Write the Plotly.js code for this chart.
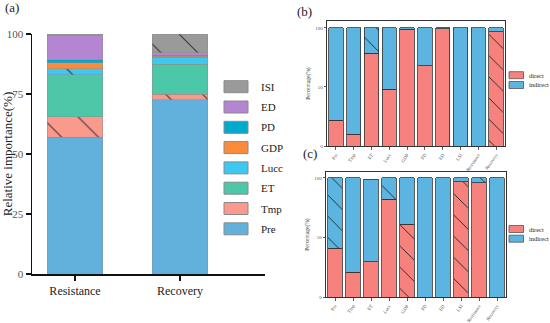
<!DOCTYPE html>
<html><head><meta charset="utf-8">
<script src="https://cdn.plot.ly/plotly-3.0.1.min.js"></script>
<style>html,body{margin:0;padding:0;background:#fff}#chart{width:550px;height:323px}</style>
</head><body><div id="chart"></div>
<script>
// ---- Panel (a): relative importance ----
const groupsA = ['Resistance', 'Recovery'];
const factorsA = ['Pre', 'Tmp', 'ET', 'Lucc', 'GDP', 'PD', 'ED', 'ISI'];
const legendLabelsA = ['ISI', 'ED', 'PD', 'GDP', 'Lucc', 'ET', 'Tmp', 'Pre'];
const pre  = [57.0, 72.7];
const tmp  = [8.6, 2.1];
const et   = [17.5, 12.5];
const lucc = [2.5, 3.1];
const gdp  = [2.4, 0.3];
const pd   = [1.3, 0.4];
const ed   = [10.1, 1.0];
const isi  = [0.6, 7.9];
const hatchA = {Tmp: ['\\', '\\'], Lucc: ['\\', ''], ISI: ['', '\\']};

// ---- Panels (b) and (c): direct / indirect ----
const catsBC = ['Pre', 'Tmp', 'ET', 'Lucc', 'GDP', 'PD', 'ED', 'LSI', 'Resistance', 'Recovery'];
const directB   = [22, 10, 78.5, 48, 99, 68, 99.3, 0, 0, 96.6];
const indirectB = [78, 90, 21.5, 52, 1, 32, 0.7, 100, 100, 3.4];
const directC   = [41, 21, 29.6, 82.3, 61, 0, 0, 96.9, 96.1, 0];
const indirectC = [59, 79, 69.4, 17.7, 39, 100, 100, 3.1, 3.9, 100];
const hatchDirectB   = ['', '', '', '', '', '', '', '', '', '\\'];
const hatchIndirectB = ['', '', '\\', '', '', '', '', '', '', ''];
const hatchDirectC   = ['', '', '', '', '\\', '', '', '\\', '', ''];
const hatchIndirectC = ['\\', '', '', '\\', '', '', '', '', '\\', ''];
const seriesBC = ['direct', 'indirect'];

const W = 550, H = 323;
const px = v => v / W, py = v => 1 - v / H;
const SERIF = 'Liberation Serif, Times New Roman, serif';

const colorsA = {Pre:'#62b0dc', Tmp:'#fa9a8c', ET:'#4cc8a8', Lucc:'#3cc8f0', GDP:'#fa8c3c', PD:'#00aacb', ED:'#b486d2', ISI:'#9a9a9a'};
const valuesA = {Pre: pre, Tmp: tmp, ET: et, Lucc: lucc, GDP: gdp, PD: pd, ED: ed, ISI: isi};
const colDirect = '#f7817d', colIndirect = '#5bb5e0';

const traces = [];
factorsA.forEach(f => {
  const pat = hatchA[f] || ['', ''];
  traces.push({
    type: 'bar', x: groupsA, y: valuesA[f], name: f, xaxis: 'x', yaxis: 'y',
    width: 0.53, showlegend: false, hoverinfo: 'skip',
    marker: {color: colorsA[f], line: {color: 'rgba(140,140,140,0.7)', width: 0.7},
      pattern: {shape: pat, fillmode: 'overlay', bgcolor: colorsA[f], fgcolor: '#333', fgopacity: 1, size: 26, solidity: 0.04}}
  });
});

function bcTraces(dir, ind, hd, hi, xa, ya) {
  traces.push({type: 'bar', x: catsBC, y: dir, name: seriesBC[0], xaxis: xa, yaxis: ya, width: 0.8,
    showlegend: false, hoverinfo: 'skip',
    marker: {color: colDirect, line: {color: '#333', width: 0.8},
      pattern: {shape: hd, fillmode: 'overlay', bgcolor: colDirect, fgcolor: '#222', fgopacity: 1, size: 15, solidity: 0.06}}});
  traces.push({type: 'bar', x: catsBC, y: ind, name: seriesBC[1], xaxis: xa, yaxis: ya, width: 0.8,
    showlegend: false, hoverinfo: 'skip',
    marker: {color: colIndirect, line: {color: '#333', width: 0.8},
      pattern: {shape: hi, fillmode: 'overlay', bgcolor: colIndirect, fgcolor: '#222', fgopacity: 1, size: 15, solidity: 0.06}}});
}
bcTraces(directB, indirectB, hatchDirectB, hatchIndirectB, 'x2', 'y2');
bcTraces(directC, indirectC, hatchDirectC, hatchIndirectC, 'x3', 'y3');

const shapes = [], annotations = [];
// legend (a)
legendLabelsA.forEach((lab, i) => {
  const cy = 86.7 + i * 20.3;
  shapes.push({type: 'rect', xref: 'paper', yref: 'paper', x0: px(224), x1: px(248), y0: py(cy - 6), y1: py(cy + 6),
    fillcolor: colorsA[lab], line: {color: '#8a8a8a', width: 1}});
  annotations.push({xref: 'paper', yref: 'paper', x: px(259), y: py(cy), text: lab, showarrow: false,
    xanchor: 'left', yanchor: 'middle', font: {family: SERIF, size: 11, color: '#222'}});
});
// legends (b), (c)
function bcLegend(y1, y2) {
  [[seriesBC[0], colDirect, y1], [seriesBC[1], colIndirect, y2]].forEach(([lab, col, cy]) => {
    shapes.push({type: 'rect', xref: 'paper', yref: 'paper', x0: px(509), x1: px(523.5), y0: py(cy - 3.5), y1: py(cy + 3.5),
      fillcolor: col, line: {color: '#555', width: 0.8}});
    annotations.push({xref: 'paper', yref: 'paper', x: px(526.5), y: py(cy), text: lab, showarrow: false,
      xanchor: 'left', yanchor: 'middle', font: {family: SERIF, size: 6.5, color: '#222'}});
  });
}
bcLegend(75.2, 85);
bcLegend(229, 238.7);

// panel labels
annotations.push({xref:'paper', yref:'paper', x: px(3), y: py(8), text: '(a)', showarrow:false, xanchor:'left', yanchor:'middle', font:{family:SERIF, size:13, color:'#222'}});
annotations.push({xref:'paper', yref:'paper', x: px(295), y: py(12), text: '(b)', showarrow:false, xanchor:'left', yanchor:'middle', font:{family:SERIF, size:13, color:'#222'}});
annotations.push({xref:'paper', yref:'paper', x: px(301), y: py(154), text: '(c)', showarrow:false, xanchor:'left', yanchor:'middle', font:{family:SERIF, size:13, color:'#222'}});

const smallAxisX = (dom, anchor) => ({domain: dom, anchor: anchor, range: [-0.5, 9.5], showline: true, mirror: true,
  linecolor: '#333', linewidth: 1.3, ticks: 'outside', ticklen: 3, tickwidth: 0.8, tickcolor: '#333',
  tickangle: -55, tickfont: {family: SERIF, size: 4.8, color: '#555'}, showgrid: false, zeroline: false, fixedrange: true});
const smallAxisY = (dom, anchor, top) => ({domain: dom, anchor: anchor, range: [0, top], showline: true, mirror: true,
  linecolor: '#333', linewidth: 1.3, ticks: 'outside', ticklen: 2, tickwidth: 0.8, tickcolor: '#333',
  tickvals: [0, 50, 100], tickfont: {family: SERIF, size: 5, color: '#555'}, showgrid: false, zeroline: false,
  title: {text: 'Percentage(%)', font: {family: SERIF, size: 5.5, color: '#444'}, standoff: 4}, fixedrange: true});

const layout = {
  width: W, height: H, margin: {l: 0, r: 0, t: 0, b: 0}, paper_bgcolor: '#fff', plot_bgcolor: '#fff',
  barmode: 'stack', showlegend: false, font: {family: SERIF},
  xaxis: {domain: [px(32), px(265)], anchor: 'y', range: [-0.41, 1.81], showline: true, linecolor: '#111', linewidth: 1.5,
    ticks: 'outside', ticklen: 5, tickwidth: 1.2, tickcolor: '#111', tickfont: {family: SERIF, size: 12, color: '#222'},
    showgrid: false, zeroline: false, fixedrange: true},
  yaxis: {domain: [py(274), py(34)], anchor: 'x', range: [0, 100], showline: true, linecolor: '#111', linewidth: 1.5,
    ticks: 'outside', ticklen: 5, tickwidth: 1.2, tickcolor: '#111', tickvals: [0, 25, 50, 75, 100],
    tickfont: {family: SERIF, size: 11, color: '#555'}, showgrid: false, zeroline: false,
    title: {text: 'Relative importance(%)', font: {family: SERIF, size: 13, color: '#222'}, standoff: 6}, fixedrange: true},
  xaxis2: smallAxisX([px(327), px(505)], 'y2'),
  yaxis2: smallAxisY([py(146), py(21)], 'x2', 105.9),
  xaxis3: smallAxisX([px(326), px(506)], 'y3'),
  yaxis3: smallAxisY([py(297), py(172)], 'x3', 105),
  shapes: shapes, annotations: annotations
};
Plotly.newPlot('chart', traces, layout, {staticPlot: true, displayModeBar: false});
</script></body></html>
